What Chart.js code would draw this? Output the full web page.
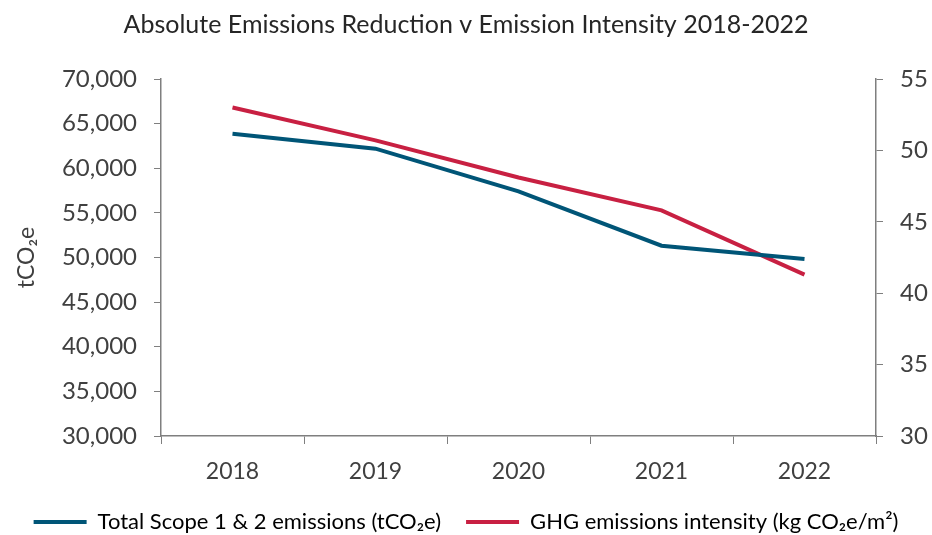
<!DOCTYPE html>
<html>
<head>
<meta charset="utf-8">
<script src="https://cdn.jsdelivr.net/npm/chart.js@4"></script>
<style>
  html, body { margin: 0; padding: 0; background: #fff; }
  #wrap { width: 932px; height: 535px; position: relative; }
</style>
</head>
<body>
<div id="wrap"><canvas id="chart"></canvas></div>
<script>
// chart data
const years = ['2018', '2019', '2020', '2021', '2022'];
const totalEmissions = [63870, 62190, 57400, 51320, 49830];   // tCO2e
const ghgIntensity = [53.0, 50.7, 48.1, 45.8, 41.3];          // kg CO2e/m2

const axisGrey = '#7f7f7f';
const textGrey = '#404040';
const FONT = "Lato, 'Open Sans', sans-serif";

Chart.defaults.font.family = FONT;
Chart.defaults.color = textGrey;

new Chart(document.getElementById('chart'), {
    type: 'line',
    data: {
        labels: years,
        datasets: [
            {
                label: 'Total Scope 1 & 2 emissions (tCO₂e)',
                data: totalEmissions,
                borderColor: '#005577',
                backgroundColor: '#005577',
                borderWidth: 4,
                pointRadius: 0,
                yAxisID: 'y'
            },
            {
                label: 'GHG emissions intensity (kg CO₂e/m²)',
                data: ghgIntensity,
                borderColor: '#c82042',
                backgroundColor: '#c82042',
                borderWidth: 4,
                pointRadius: 0,
                yAxisID: 'y1'
            }
        ]
    },
    options: {
        responsive: true,
        maintainAspectRatio: false,
        animation: false,
        layout: { padding: 0 },
        plugins: {
            title: {
                display: true,
                text: 'Absolute Emissions Reduction v Emission Intensity 2018-2022',
                font: { size: 25, weight: 'normal' },
                color: '#262626',
                padding: { top: 10, bottom: 39 }
            },
            legend: {
                position: 'bottom',
                maxHeight: 49,
                labels: {
                    boxWidth: 53,
                    boxHeight: 4,
                    font: { size: 22 },
                    color: textGrey,
                    padding: 25,
                    generateLabels: chart => chart.data.datasets.map((ds, i) => ({
                        text: ds.label,
                        fillStyle: ds.borderColor,
                        strokeStyle: ds.borderColor,
                        lineWidth: 0,
                        datasetIndex: i
                    }))
                }
            },
            tooltip: { enabled: false }
        },
        scales: {
            x: {
                offset: true,
                grid: {
                    offset: true,
                    drawOnChartArea: false,
                    drawTicks: true,
                    tickLength: 8,
                    color: axisGrey
                },
                border: { color: axisGrey, width: 1.5 },
                ticks: { font: { size: 23 }, color: textGrey, padding: 14 },
                afterFit: s => { s.height = 50; }
            },
            y: {
                position: 'left',
                min: 30000,
                max: 70000,
                ticks: {
                    stepSize: 5000,
                    font: { size: 24 },
                    color: textGrey,
                    padding: 17,
                    callback: v => v.toLocaleString('en-US')
                },
                grid: { drawOnChartArea: false, tickLength: 7, color: axisGrey },
                border: { color: axisGrey, width: 1.5 },
                title: {
                    display: true,
                    text: 'tCO₂e',
                    font: { size: 23 },
                    color: textGrey,
                    padding: { top: 13, bottom: 0 }
                },
                afterFit: s => { s.width = 161; }
            },
            y1: {
                position: 'right',
                min: 30,
                max: 55,
                ticks: { stepSize: 5, font: { size: 24 }, color: textGrey, padding: 17 },
                grid: { drawOnChartArea: false, tickLength: 7, color: axisGrey },
                border: { color: axisGrey, width: 1.5 },
                afterFit: s => { s.width = 56; }
            }
        }
    }
});
</script>
</body>
</html>
